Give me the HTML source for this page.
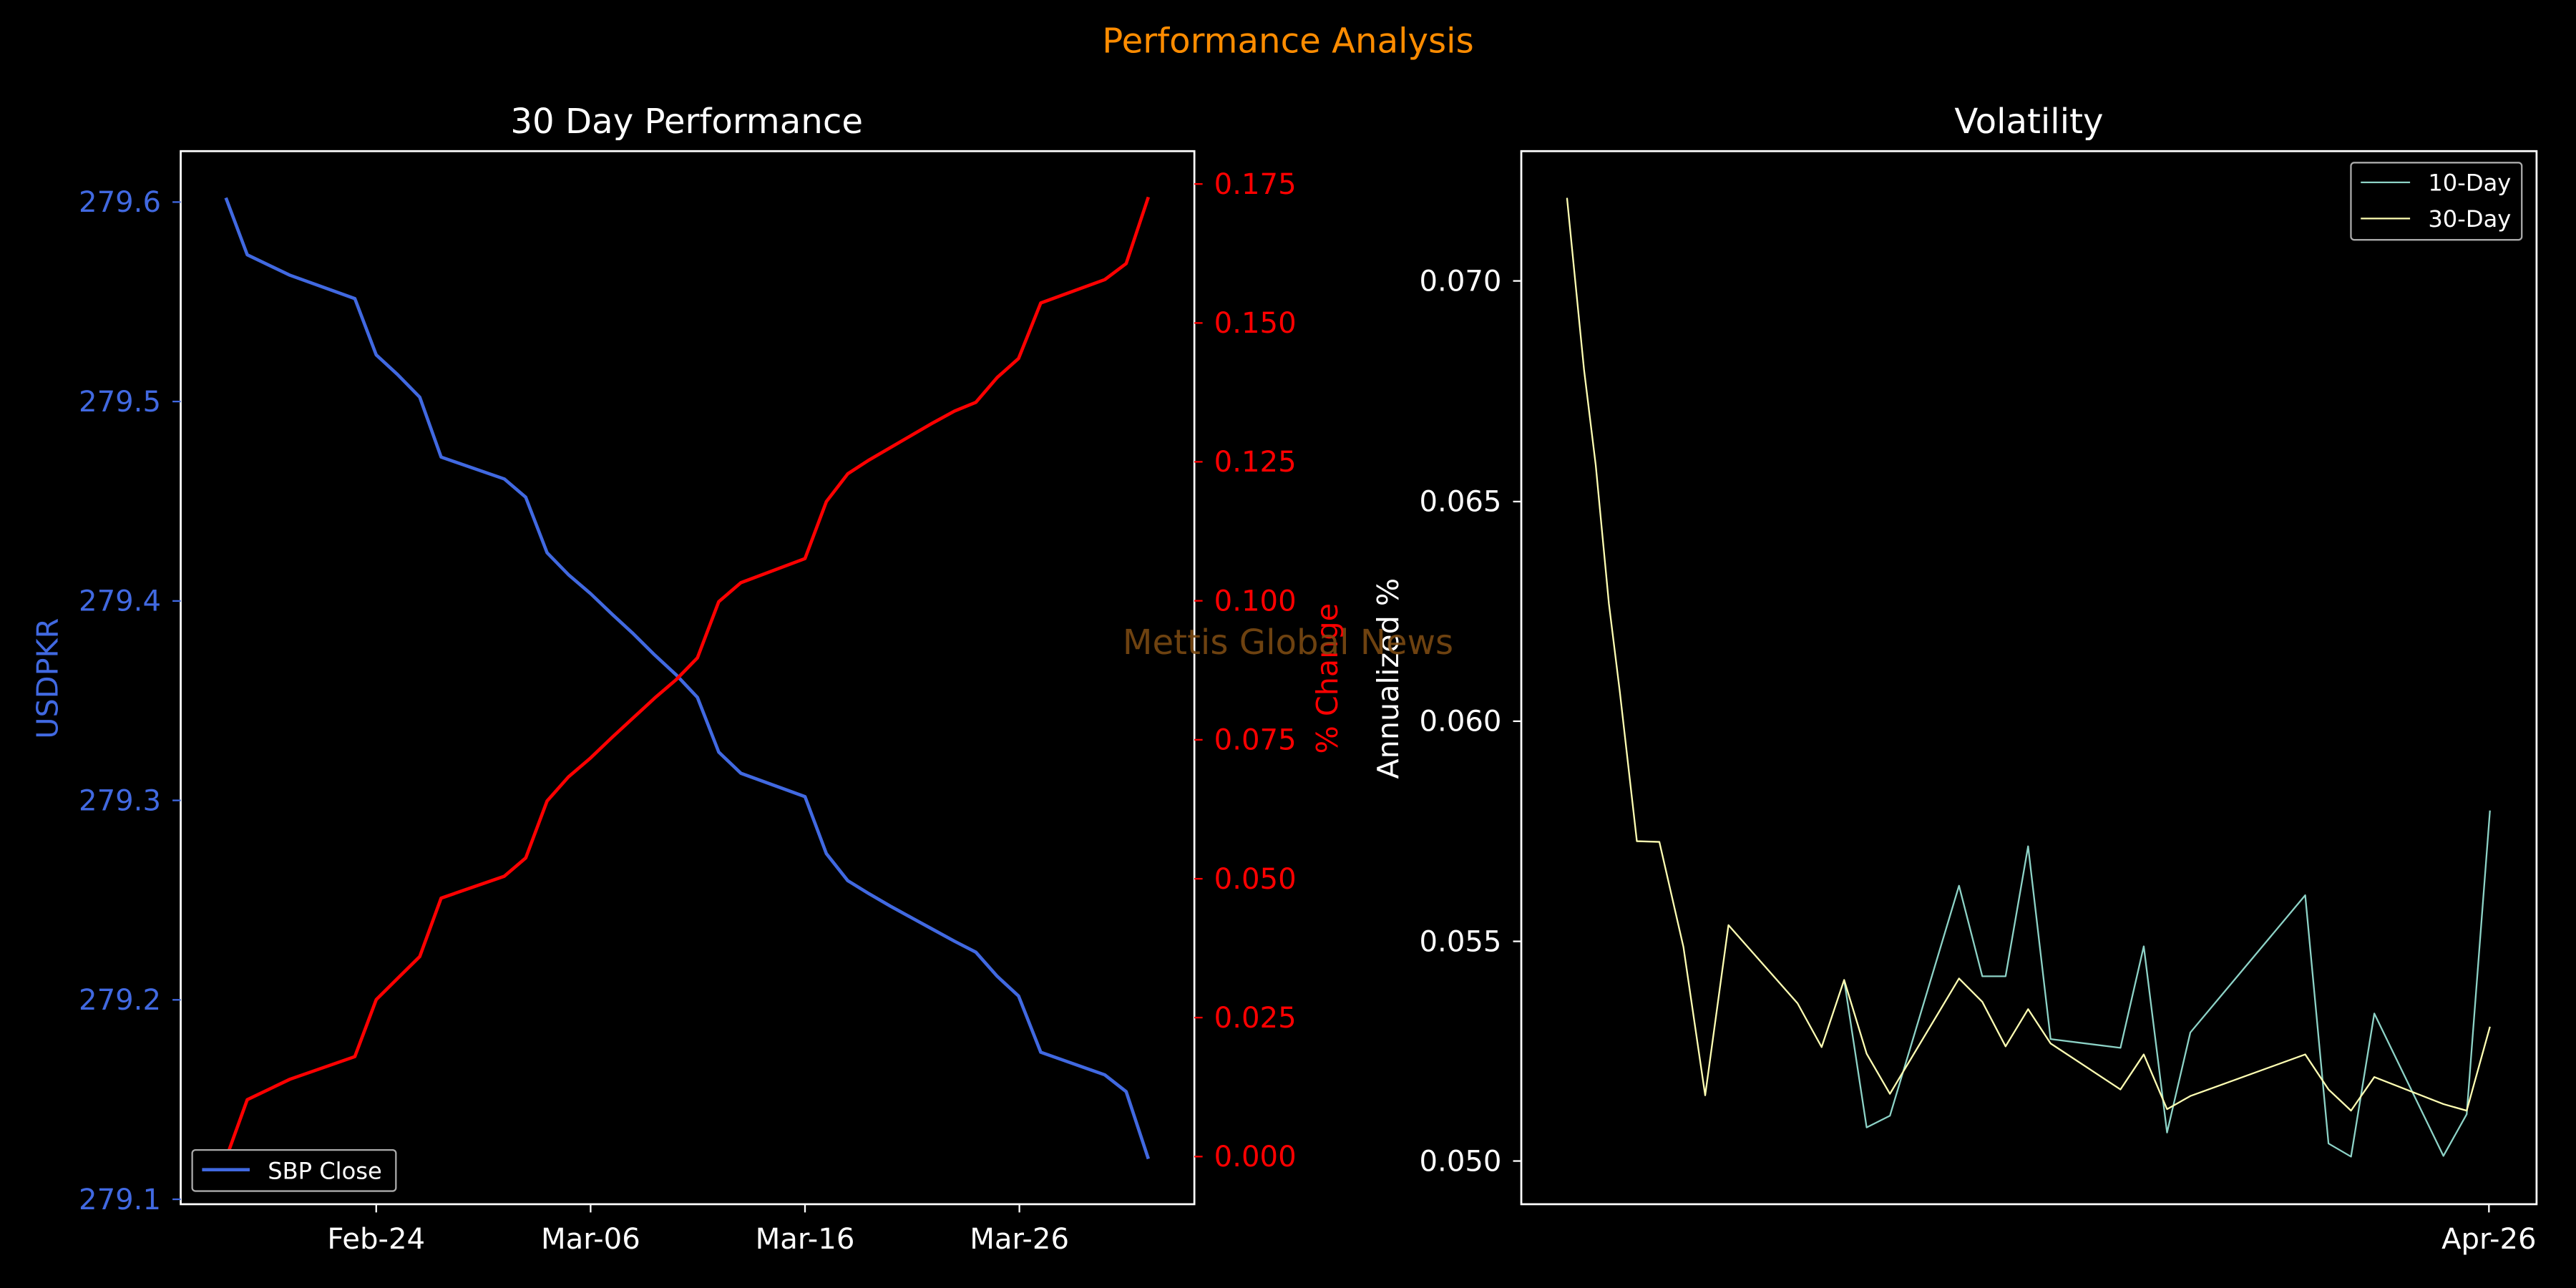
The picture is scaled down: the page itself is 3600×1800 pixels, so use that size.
<!DOCTYPE html>
<html><head><meta charset="utf-8"><style>html,body{margin:0;padding:0;background:#000;}svg{display:block}</style></head><body>
<svg width="3600" height="1800" viewBox="0 0 1568 784" xmlns="http://www.w3.org/2000/svg" font-family="'DejaVu Sans','Liberation Sans',sans-serif">
<rect width="1568" height="784" fill="#000"/>
<text x="784" y="32" fill="#ff8c00" font-size="21" text-anchor="middle">Performance Analysis</text>
<!-- Left panel -->
<text x="418" y="81" fill="#fff" font-size="21" text-anchor="middle">30 Day Performance</text>
<g transform="translate(0,65.3) scale(0.5,0.4445)" fill="none" stroke-linejoin="round">
<polyline vector-effect="non-scaling-stroke" stroke="#4169e1" stroke-width="4.6" points="275,124 301,202 353,230 432,262 458,339 484,366 511,397 537,479 614,509 640,534 666,610 692,640 719,666 745,694 771,721 797,750 823,777 849,808 875,883 902,912 980,944 1006,1022 1032,1059 1058,1077 1084,1094 1110,1110 1136,1126 1162,1142 1188,1157 1214,1190 1240,1217 1267,1294 1345,1325 1371,1348 1398,1440"/>
<polyline vector-effect="non-scaling-stroke" stroke="#ff0000" stroke-width="4.6" points="275,1440 301,1359 353,1331 432,1300 458,1222 484,1193 511,1163 537,1083 614,1053 640,1028 666,950 692,917 719,891 745,863 771,836 797,809 823,784 849,754 875,677 902,651 980,618 1006,540 1032,502 1058,483 1084,466 1110,449 1136,432 1162,416 1188,404 1214,370 1240,344 1267,268 1345,236 1371,214 1398,123"/>
</g>
<rect x="110" y="92" width="617" height="641" fill="none" stroke="#fff" stroke-width="1.2"/>
<g stroke="#4169e1" stroke-width="1"><line x1="105" y1="123" x2="110" y2="123"/><line x1="105" y1="244.4" x2="110" y2="244.4"/><line x1="105" y1="365.8" x2="110" y2="365.8"/><line x1="105" y1="487.2" x2="110" y2="487.2"/><line x1="105" y1="608.6" x2="110" y2="608.6"/><line x1="105" y1="730" x2="110" y2="730"/></g>
<g fill="#4169e1" font-size="17.5" text-anchor="end"><text x="98" y="129">279.6</text><text x="98" y="250.4">279.5</text><text x="98" y="371.8">279.4</text><text x="98" y="493.2">279.3</text><text x="98" y="614.6">279.2</text><text x="98" y="736">279.1</text></g>
<text transform="translate(35,413) rotate(-90)" fill="#4169e1" font-size="18" text-anchor="middle">USDPKR</text>
<g stroke="#ff0000" stroke-width="1"><line x1="727" y1="112" x2="732" y2="112"/><line x1="727" y1="196.6" x2="732" y2="196.6"/><line x1="727" y1="281.1" x2="732" y2="281.1"/><line x1="727" y1="365.7" x2="732" y2="365.7"/><line x1="727" y1="450.3" x2="732" y2="450.3"/><line x1="727" y1="534.9" x2="732" y2="534.9"/><line x1="727" y1="619.4" x2="732" y2="619.4"/><line x1="727" y1="704" x2="732" y2="704"/></g>
<g fill="#ff0000" font-size="17.5"><text x="739" y="118">0.175</text><text x="739" y="202.6">0.150</text><text x="739" y="287.1">0.125</text><text x="739" y="371.7">0.100</text><text x="739" y="456.3">0.075</text><text x="739" y="540.9">0.050</text><text x="739" y="625.4">0.025</text><text x="739" y="710">0.000</text></g>
<text transform="translate(814,413) rotate(-90)" fill="#ff0000" font-size="18" text-anchor="middle">% Change</text>
<g stroke="#fff" stroke-width="1"><line x1="229" y1="733" x2="229" y2="738"/><line x1="359.5" y1="733" x2="359.5" y2="738"/><line x1="490" y1="733" x2="490" y2="738"/><line x1="620.5" y1="733" x2="620.5" y2="738"/></g>
<g fill="#fff" font-size="17.5" text-anchor="middle"><text x="229" y="760">Feb-24</text><text x="359.5" y="760">Mar-06</text><text x="490" y="760">Mar-16</text><text x="620.5" y="760">Mar-26</text></g>
<rect x="117" y="700" width="124" height="25" rx="2" fill="#000" stroke="#aaa" stroke-width="1"/>
<line x1="123" y1="712" x2="152" y2="712" stroke="#4169e1" stroke-width="2"/>
<text x="163" y="717.5" fill="#fff" font-size="14">SBP Close</text>
<!-- Right panel -->
<text x="1235" y="81" fill="#fff" font-size="21" text-anchor="middle">Volatility</text>
<g transform="translate(827.2,65.3) scale(0.4725,0.4445)" fill="none" stroke-linejoin="round">
<polyline vector-effect="non-scaling-stroke" stroke="#8dd3c7" stroke-width="2.3" points="625,1195 654,1397 684,1381 773,1066 803,1190 833,1190 862,1012 891,1276 981,1288 1011,1149 1041,1404 1071,1267 1219,1079 1249,1419 1278,1437 1308,1241 1397,1436 1427,1379 1457,963"/>
<polyline vector-effect="non-scaling-stroke" stroke="#ffffb3" stroke-width="2.3" points="268,124 290,360 305,490 322,680 336,800 358,1005 387,1006 418,1150 446,1353 476,1120 565,1227 596,1287 625,1195 654,1296 684,1351 773,1193 803,1225 833,1286 862,1235 891,1282 981,1345 1011,1297 1041,1372 1071,1354 1219,1297 1249,1345 1278,1374 1308,1328 1397,1365 1427,1374 1457,1259"/>
</g>
<rect x="926" y="92" width="618" height="641" fill="none" stroke="#fff" stroke-width="1.2"/>
<g stroke="#fff" stroke-width="1"><line x1="921" y1="171" x2="926" y2="171"/><line x1="921" y1="305.3" x2="926" y2="305.3"/><line x1="921" y1="439" x2="926" y2="439"/><line x1="921" y1="573" x2="926" y2="573"/><line x1="921" y1="706.7" x2="926" y2="706.7"/><line x1="1515" y1="733" x2="1515" y2="738"/></g>
<g fill="#fff" font-size="17.5" text-anchor="end"><text x="914" y="177">0.070</text><text x="914" y="311.3">0.065</text><text x="914" y="445">0.060</text><text x="914" y="579">0.055</text><text x="914" y="712.7">0.050</text></g>
<text x="1515" y="760" fill="#fff" font-size="17.5" text-anchor="middle">Apr-26</text>
<text transform="translate(851,413) rotate(-90)" fill="#fff" font-size="18" text-anchor="middle">Annualized %</text>
<rect x="1431" y="99" width="104" height="47" rx="2" fill="#000" stroke="#aaa" stroke-width="1"/>
<line x1="1437" y1="111" x2="1467" y2="111" stroke="#8dd3c7" stroke-width="1"/>
<line x1="1437" y1="133" x2="1467" y2="133" stroke="#ffffb3" stroke-width="1"/>
<text x="1478" y="116" fill="#fff" font-size="14">10-Day</text>
<text x="1478" y="138" fill="#fff" font-size="14">30-Day</text>
<text x="784" y="398" fill="#7a4a12" font-size="21" text-anchor="middle" opacity="0.9">Mettis Global News</text>
</svg>
</body></html>
